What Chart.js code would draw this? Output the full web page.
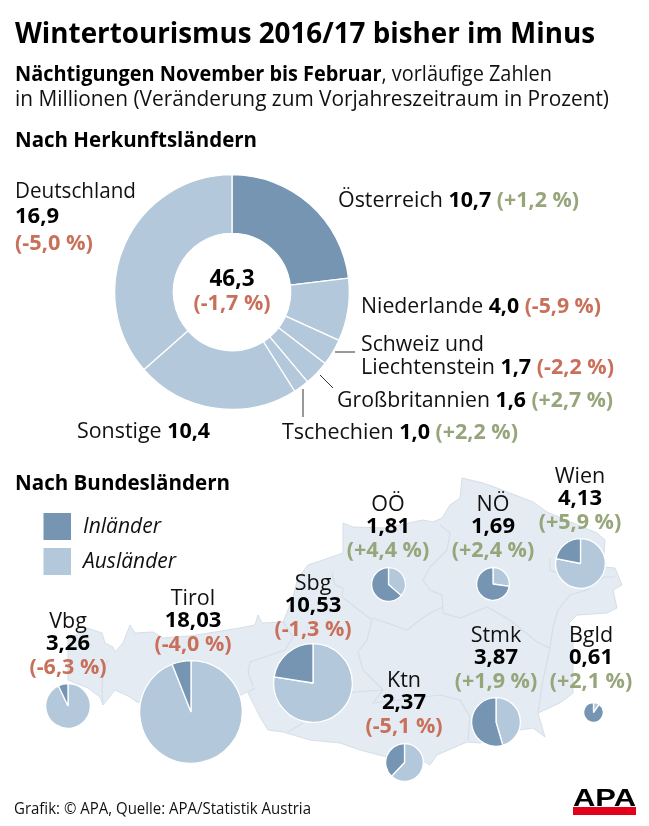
<!DOCTYPE html>
<html lang="de">
<head>
<meta charset="UTF-8">
<title>Wintertourismus 2016/17</title>
<script src="https://cdn.jsdelivr.net/npm/chart.js"></script>
<style>
  html, body { margin: 0; background: #fff; }
  #page { position: relative; width: 649px; height: 826px; overflow: hidden; }
  #page svg { position: absolute; left: 0; top: 0; }
  #page canvas { position: absolute; }
  #texte { z-index: 2; pointer-events: none; }
  text { font-family: "Open Sans", sans-serif; fill: #111; }
  .b { font-weight: 700; fill: #000; }
  .rot { fill: #c9705b; font-weight: 700; }
  .gruen { fill: #97a57a; font-weight: 700; }
</style>
</head>
<body>
<div id="page">
  <svg id="karte" width="649" height="826">
    <path fill="#e4ebf2" stroke="#d5dfe8" stroke-width="1" d="M68 640 L87 628 L102 633 L105 643 L113 647 L115 652 L123 643 L130 625 L135 633 L153 632 L163 638 L190 636 L240 628 L255 625 L258 615 L262 623 L283 622 L292 600 L298 578 L308 565 L323 560 L343 553 L343 523 L353 527 L385 528 L423 520 L433 522 L442 518 L450 505 L460 498 L462 478 L483 483 L497 488 L510 493 L533 502 L547 512 L597 533 L605 540 L603 567 L615 568 L622 585 L613 590 L617 608 L607 613 L577 615 L568 624 L573 628 L573 693 L560 703 L538 713 L545 737 L533 728 L520 730 L480 743 L467 742 L437 755 L430 765 L422 760 L387 757 L360 750 L340 743 L310 740 L283 732 L268 730 L260 717 L248 693 L255 688 L237 697 L190 703 L137 702 L130 697 L115 690 L103 705 L100 697 L88 688 L68 680 Z"/>
    <path fill="none" stroke="#d5dfe8" stroke-width="1.2" d="M108 660 L103 673 L102 690 L103 703 M283 622 L293 637 L285 650 L250 662 L248 672 L253 686 M332 573 L335 585 L343 588 L342 597 L372 620 L367 640 L358 652 L363 670 L383 690 L353 692 M353 692 L330 715 M303 723 L288 732 M383 690 L373 703 L440 695 L460 700 L470 717 L468 740 M372 618 L393 625 L407 630 L420 620 L430 613 L443 607 M440 525 L450 533 L447 550 L430 567 L423 580 L430 590 L442 595 L443 613 L460 618 L487 607 L510 620 L537 642 L550 648 L553 627 L558 610 L570 595 L587 590 L603 577 L615 577 M550 648 L542 685 L538 713 M550 558 L550 570 L557 573"/>
    <path fill="none" stroke="#333" stroke-width="1" d="M335 352 H355 M320 375 L333 388 M303 389 V417"/>
  </svg>
  <svg id="texte" width="649" height="826"></svg>
</div>

<script>
  // Nächtigungen nach Herkunftsländern (Mio.)
  var herkunft = ['Österreich', 'Niederlande', 'Schweiz und Liechtenstein', 'Großbritannien', 'Tschechien', 'Sonstige', 'Deutschland'];
  var herkunftWerte = [10.7, 4.0, 1.7, 1.6, 1.0, 10.4, 16.9];
  var herkunftFarben = ['#7595b3', '#b3c8da', '#b3c8da', '#b3c8da', '#b3c8da', '#b3c8da', '#b3c8da'];

  // Nach Bundesländern
  var laender = ['Vbg', 'Tirol', 'Sbg', 'Ktn', 'Stmk', 'OÖ', 'NÖ', 'Wien', 'Bgld'];
  var gesamt = [3.26, 18.03, 10.53, 2.37, 3.87, 1.81, 1.69, 4.13, 0.61];
  var auslaender = [3.03, 16.95, 8.16, 1.47, 1.76, 0.66, 0.46, 3.23, 0.06];
  var inlaender = [0.23, 1.08, 2.37, 0.90, 2.11, 1.15, 1.23, 0.90, 0.55];
  var veraenderung = ['-6,3', '-4,0', '-1,3', '-5,1', '+1,9', '+4,4', '+2,4', '+5,9', '+2,1'];

  // Position der Kreise und Beschriftungen auf der Karte
  var pieX = [68, 190.7, 313, 404.3, 496, 388, 492.7, 580, 593.3];
  var pieY = [705.6, 712.3, 682.7, 762, 721.7, 584, 584, 563, 712.7];
  var labelX = [68, 193, 313, 404, 496, 388, 493, 580, 591];
  var labelY = [628, 605, 590, 687, 642, 511, 511, 483, 642];
  var radiusFaktor = 12;

  var svg = document.getElementById('texte');
  var NS = 'http://www.w3.org/2000/svg';

  // teile: [[text, klasse], ...]
  function text(x, y, size, teile, breite, anker) {
    var t = document.createElementNS(NS, 'text');
    t.setAttribute('x', x);
    t.setAttribute('y', y);
    t.setAttribute('font-size', size);
    if (anker) t.setAttribute('text-anchor', anker);
    if (breite) {
      t.setAttribute('textLength', breite);
      t.setAttribute('lengthAdjust', 'spacingAndGlyphs');
    }
    teile.forEach(function (teil) {
      var s = document.createElementNS(NS, 'tspan');
      s.textContent = teil[0];
      if (teil[1]) s.setAttribute('class', teil[1]);
      t.appendChild(s);
    });
    svg.appendChild(t);
    return t;
  }

  function rechteck(x, y, b, h, farbe) {
    var r = document.createElementNS(NS, 'rect');
    r.setAttribute('x', x); r.setAttribute('y', y);
    r.setAttribute('width', b); r.setAttribute('height', h);
    r.setAttribute('fill', farbe);
    svg.appendChild(r);
  }

  function kreis(x, y, radius, werte, farben, cutout) {
    var c = document.createElement('canvas');
    var groesse = Math.ceil(radius * 2) + 2;
    c.width = groesse;
    c.height = groesse;
    c.style.width = groesse + 'px';
    c.style.height = groesse + 'px';
    c.style.left = (x - groesse / 2) + 'px';
    c.style.top = (y - groesse / 2) + 'px';
    document.getElementById('page').appendChild(c);
    new Chart(c, {
      type: cutout ? 'doughnut' : 'pie',
      data: { datasets: [{ data: werte, backgroundColor: farben, borderColor: '#fff', borderWidth: 1.3 }] },
      options: {
        responsive: false,
        animation: false,
        devicePixelRatio: 1,
        cutout: cutout || 0,
        plugins: { legend: { display: false }, tooltip: { enabled: false } }
      }
    });
  }

  // Ringdiagramm
  kreis(231.7, 292.3, 117, herkunftWerte, herkunftFarben, '50%');

  // Kreise auf der Karte
  laender.forEach(function (land, i) {
    kreis(pieX[i], pieY[i], radiusFaktor * Math.sqrt(gesamt[i]), [auslaender[i], inlaender[i]], ['#b3c8da', '#7595b3']);
    var y = labelY[i];
    text(labelX[i], y, 21.5, [[land]], 0, 'middle');
    text(labelX[i], y + 22, 22, [[gesamt[i].toFixed(2).replace('.', ','), 'b']], 0, 'middle');
    text(labelX[i], y + 46, 21.5, [['(' + veraenderung[i] + ' %)', veraenderung[i][0] === '-' ? 'rot' : 'gruen']], 0, 'middle');
  });

  // Kopf
  text(15, 43, 29, [['Wintertourismus 2016/17 bisher im Minus', 'b']], 580);
  text(15, 81, 22, [['Nächtigungen November bis Februar', 'b'], [', vorläufige Zahlen']], 537);
  text(15, 106, 22, [['in Millionen (Veränderung zum Vorjahreszeitraum in Prozent)']], 594);
  text(15, 147, 21.5, [['Nach Herkunftsländern', 'b']], 242);
  text(15, 490, 21.5, [['Nach Bundesländern', 'b']], 215);

  // Ringbeschriftung
  text(15, 198, 22, [['Deutschland']], 121);
  text(15, 223, 22, [['16,9', 'b']]);
  text(15, 250, 21.5, [['(-5,0 %)', 'rot']], 78);
  text(338, 207, 22, [['Österreich '], ['10,7 ', 'b'], ['(+1,2 %)', 'gruen']], 241);
  text(361, 313, 22, [['Niederlande '], ['4,0 ', 'b'], ['(-5,9 %)', 'rot']], 240);
  text(361, 351, 22, [['Schweiz und']], 123);
  text(361, 374, 22, [['Liechtenstein '], ['1,7 ', 'b'], ['(-2,2 %)', 'rot']], 253);
  text(337, 407, 22, [['Großbritannien '], ['1,6 ', 'b'], ['(+2,7 %)', 'gruen']], 276);
  text(282, 439, 22, [['Tschechien '], ['1,0 ', 'b'], ['(+2,2 %)', 'gruen']], 236);
  text(77, 438, 22, [['Sonstige '], ['10,4', 'b']], 133);
  text(232, 286, 22.5, [['46,3', 'b']], 0, 'middle');
  text(232, 310, 21.5, [['(-1,7 %)', 'rot']], 0, 'middle');

  // Legende
  rechteck(43.5, 513, 27.5, 27, '#7595b3');
  rechteck(43.5, 548, 27.5, 27, '#b3c8da');
  text(83, 533, 21, [['Inländer']], 78).setAttribute('font-style', 'italic');
  text(83, 568, 21, [['Ausländer']], 93).setAttribute('font-style', 'italic');

  // Fuss
  text(14, 814, 16.5, [['Grafik: © APA, Quelle: APA/Statistik Austria']], 297);
  var logo = text(573, 806, 23, [['APA', 'b']], 63);
  logo.style.fontFamily = '"Liberation Sans", sans-serif';
  logo.style.fontWeight = '700';
  rechteck(573, 807, 63, 8, '#e2001a');
</script>
</body>
</html>
